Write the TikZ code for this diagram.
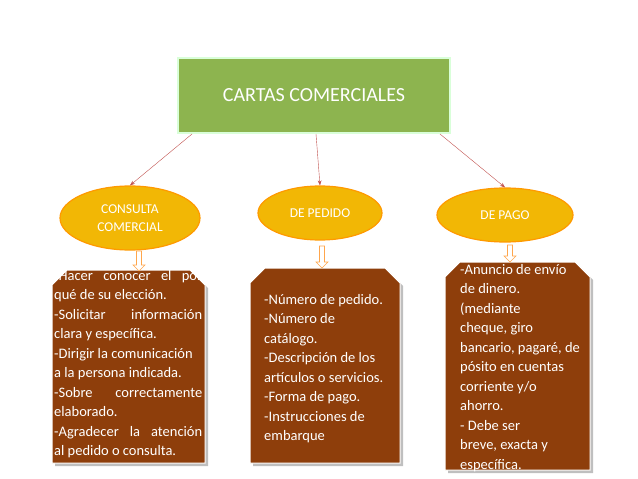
\documentclass[tikz,border=0pt]{standalone}
\usepackage{fontspec}
\setmainfont{Carlito}
\usetikzlibrary{shapes.geometric,arrows.meta}
\definecolor{tgreen}{HTML}{8DB44F}
\definecolor{gold}{HTML}{F2B705}
\definecolor{brn}{HTML}{8E3E0B}
\definecolor{lnk}{HTML}{C0504D}
\newcommand{\jl}[1]{\makebox[148pt][s]{#1}}
\tikzset{
 ell/.style={ellipse,fill=gold,draw=orange!80!yellow,line width=1.2pt,text=white,font=\fontsize{13.5}{18}\selectfont,align=center},
 body/.style={anchor=north west,text=white,font=\fontsize{14.5}{19.5}\selectfont,align=left,inner sep=0pt},
 link/.style={draw=lnk,-{Stealth[length=5pt]}},
 hol/.style={draw=orange!70,line width=0.6pt,fill=white},
}
\begin{document}
\begin{tikzpicture}[x=1pt,y=-1pt]
\useasboundingbox (0,0) rectangle (638,479);
\node[draw=green!15!white,line width=1.5pt,fill=tgreen,minimum width=272pt,minimum height=75pt,text=white,font=\fontsize{20}{24}\selectfont] (t) at (314,95.5) {CARTAS COMERCIALES};
\node[ell,minimum width=140pt,minimum height=64pt] (a) at (130,218) {CONSULTA\\COMERCIAL};
\node[ell,minimum width=124pt,minimum height=54pt] (b) at (320,213) {DE PEDIDO};
\node[ell,minimum width=136pt,minimum height=54pt] (c) at (505,215) {DE PAGO};
\coordinate (t1) at (192,134); \coordinate (t2) at (316,134); \coordinate (t3) at (440,134);
\draw[link] (t1) -- (a.north);
\draw[link] (t2) -- (b.north);
\draw[link] (t3) -- (c.north);
\foreach \l/\r/\tp/\bt in {52/205/270/463, 250/400/268/463, 445/590/262/470}{
 \fill[gray!50] (\l+3,\tp+15+3) -- (\l+15+3,\tp+3) -- (\r-15+3,\tp+3) -- (\r+3,\tp+15+3) -- (\r+3,\bt+3) -- (\l+3,\bt+3) -- cycle;
 \filldraw[fill=brn,draw=white,line width=1pt] (\l,\tp+15) -- (\l+15,\tp) -- (\r-15,\tp) -- (\r,\tp+15) -- (\r,\bt) -- (\l,\bt) -- cycle;
}
\foreach \x/\ya/\yb in {139/251/271, 322/246/268, 510/245/262}{
 \filldraw[hol] (\x-2.5,\ya) -- (\x+2.5,\ya) -- (\x+2.5,\yb-6) -- (\x+6,\yb-6) -- (\x,\yb) -- (\x-6,\yb-6) -- (\x-2.5,\yb-6) -- cycle;
}
\node[body] (la) at (54,270) {\jl{-Hacer conocer el por}\\qué de su elección.\\\jl{-Solicitar información}\\clara y específica.\\-Dirigir la comunicación\\a la persona indicada.\\\jl{-Sobre correctamente}\\elaborado.\\\jl{-Agradecer la atención}\\al pedido o consulta.};
\node[body] (lb) at (264,294) {-Número de pedido.\\-Número de\\catálogo.\\-Descripción de los\\artículos o servicios.\\-Forma de pago.\\-Instrucciones de\\embarque};
\node[body] (lc) at (460,264) {-Anuncio de envío\\de dinero.\\(mediante\\cheque, giro\\bancario, pagaré, de\\pósito en cuentas\\corriente y/o\\ahorro.\\- Debe ser\\breve, exacta y\\específica.};
\end{tikzpicture}
\end{document}
